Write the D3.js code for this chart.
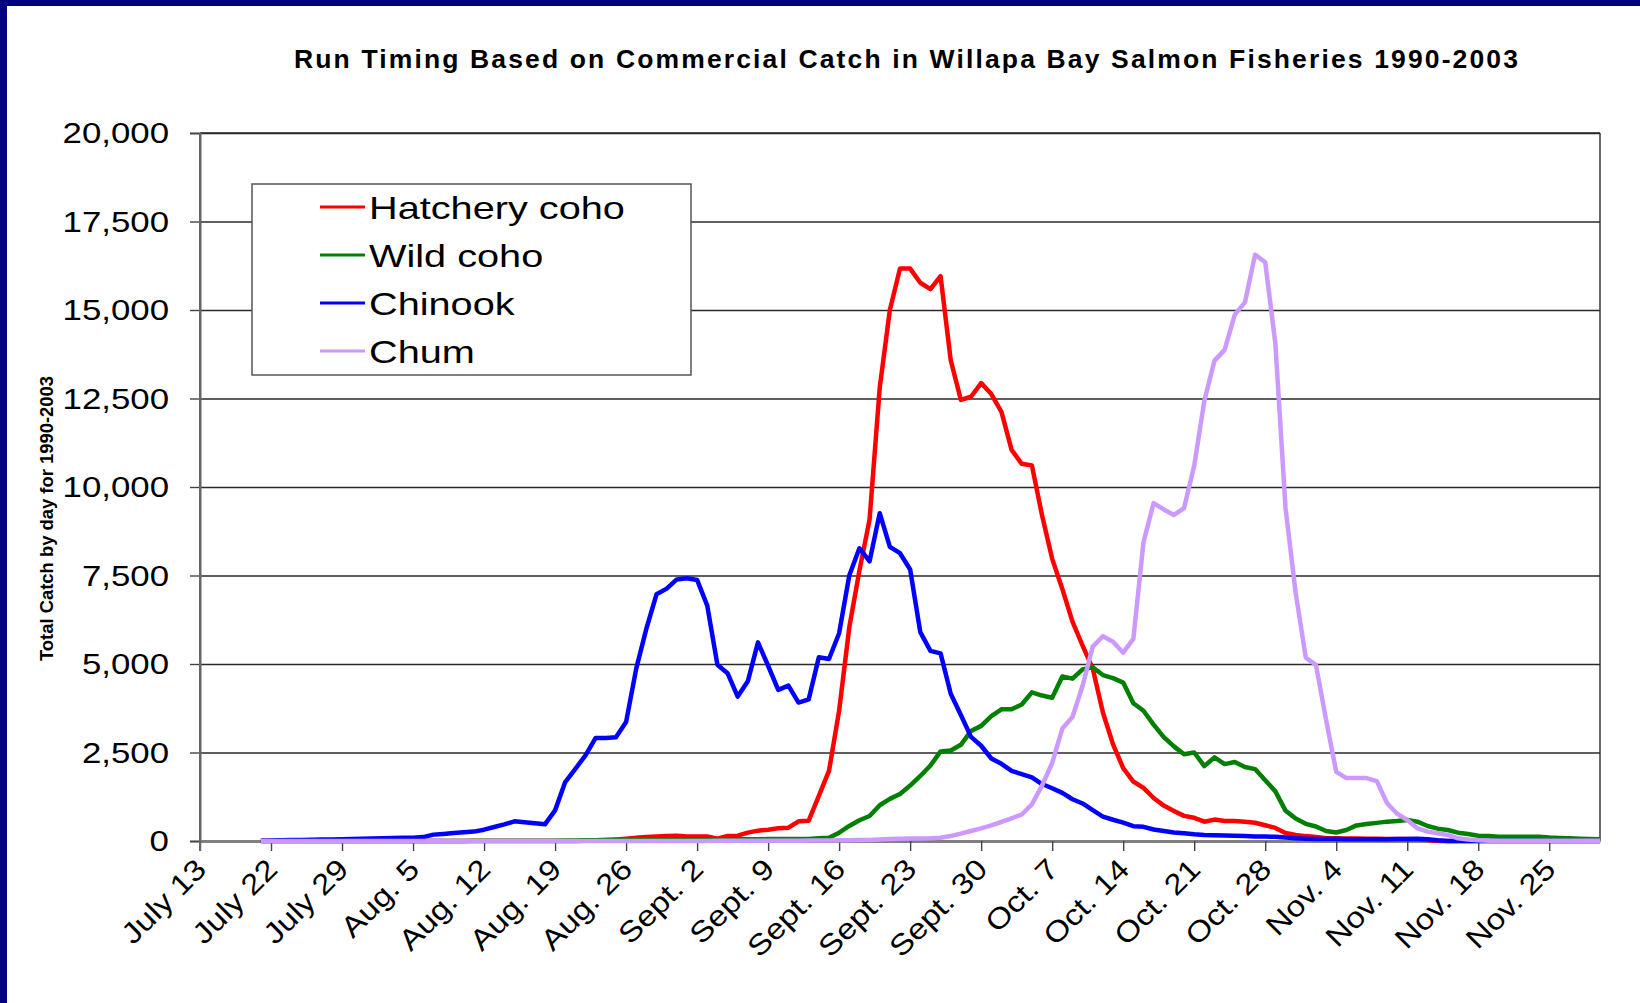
<!DOCTYPE html>
<html>
<head>
<meta charset="utf-8">
<script src="https://cdn.jsdelivr.net/npm/d3@7"></script>
<style>
  html, body { margin: 0; padding: 0; background: #fff; }
  svg { display: block; }
</style>
</head>
<body>
<svg id="chart"></svg>
<script>
// tick labels on the category axis, one every 7 days
const tickLabels = ['July 13', 'July 22', 'July 29', 'Aug. 5', 'Aug. 12', 'Aug. 19', 'Aug. 26',
  'Sept. 2', 'Sept. 9', 'Sept. 16', 'Sept. 23', 'Sept. 30', 'Oct. 7', 'Oct. 14', 'Oct. 21',
  'Oct. 28', 'Nov. 4', 'Nov. 11', 'Nov. 18', 'Nov. 25'];

const seriesNames = ['Hatchery coho', 'Wild coho', 'Chinook', 'Chum'];
const seriesColors = ['#ff0000', '#008000', '#0000ff', '#cc99ff'];

const nDays = 139;   // category slots on the axis
const firstDay = 6;  // first slot that has data

// daily catch from slot 6 to slot 138, ten values a row
const hatcheryCoho = [
  0, 0, 0, 0, 0, 0, 0, 0, 0, 0,
  0, 0, 0, 0, 0, 0, 0, 0, 0, 0,
  0, 0, 0, 0, 0, 0, 0, 0, 0, 0,
  0, 0, 10, 20, 30, 45, 65, 90, 110, 125,
  140, 145, 130, 125, 125, 66, 140, 150, 236, 292,
  320, 358, 377, 556, 575, 1273, 1980, 3680, 6035, 7640,
  9080, 12800, 15000, 16170, 16170, 15770, 15590, 15955, 13580, 12460,
  12550, 12935, 12625, 12120, 11050, 10655, 10610, 9200, 7970, 7120,
  6195, 5520, 4870, 3630, 2730, 2060, 1680, 1500, 1215, 1000,
  850, 710, 655, 546, 605, 565, 565, 546, 515, 445,
  370, 228, 168, 138, 116, 75, 75, 70, 70, 65,
  65, 60, 60, 55, 50, 30, 0, 0, 0, 0,
  0, 0, 0, 0, 0, 0, 0, 0, 0, 0,
  0, 0, 0];

const wildCoho = [
  0, 0, 0, 0, 0, 0, 0, 0, 0, 0,
  0, 0, 0, 0, 0, 0, 0, 0, 0, 0,
  0, 5, 5, 5, 5, 10, 10, 10, 10, 10,
  15, 15, 20, 20, 25, 30, 35, 40, 40, 40,
  45, 45, 45, 45, 45, 50, 50, 50, 50, 50,
  55, 55, 55, 60, 60, 75, 94, 236, 424, 585,
  707, 1010, 1190, 1330, 1565, 1837, 2133, 2530, 2556, 2717,
  3110, 3252, 3530, 3720, 3720, 3857, 4198, 4108, 4048, 4647,
  4587, 4849, 4905, 4688, 4601, 4475, 3891, 3680, 3287, 2935,
  2673, 2450, 2500, 2117, 2363, 2172, 2232, 2091, 2031, 1718,
  1402, 858, 633, 485, 410, 283, 239, 311, 440, 480,
  512, 547, 566, 593, 546, 424, 348, 310, 235, 198,
  150, 141, 122, 122, 122, 122, 122, 100, 85, 75,
  66, 56, 47];

const chinook = [
  10, 15, 20, 25, 30, 35, 40, 45, 50, 55,
  65, 70, 80, 85, 90, 95, 110, 180, 200, 225,
  245, 265, 320, 395, 470, 555, 530, 500, 470, 865,
  1665, 2040, 2420, 2910, 2910, 2930, 3360, 4870, 6000, 6970,
  7130, 7390, 7420, 7375, 6650, 4980, 4740, 4080, 4510, 5610,
  4950, 4270, 4390, 3910, 4000, 5190, 5140, 5870, 7500, 8270,
  7900, 9260, 8310, 8130, 7670, 5900, 5370, 5300, 4160, 3560,
  2940, 2690, 2330, 2180, 1980, 1890, 1800, 1610, 1490, 1360,
  1180, 1060, 870, 690, 600, 520, 420, 400, 325, 280,
  240, 220, 190, 170, 165, 155, 150, 140, 130, 125,
  120, 100, 75, 65, 60, 55, 55, 50, 50, 50,
  50, 50, 55, 60, 65, 50, 20, 0, 0, 0,
  0, 0, 0, 0, 0, 0, 0, 0, 0, 0,
  0, 0, 0];

const chum = [
  0, 0, 0, 0, 0, 0, 0, 0, 0, 0,
  0, 0, 0, 0, 0, 0, 0, 0, 0, 0,
  0, 0, 0, 0, 0, 0, 0, 0, 0, 0,
  0, 0, 0, 0, 0, 0, 0, 0, 0, 0,
  0, 0, 0, 0, 0, 5, 5, 5, 5, 5,
  10, 10, 10, 10, 15, 15, 15, 20, 22, 25,
  28, 40, 55, 66, 70, 72, 75, 94, 141, 207,
  283, 358, 443, 537, 641, 748, 1034, 1563, 2204, 3176,
  3503, 4387, 5490, 5784, 5630, 5320, 5708, 8438, 9546, 9366,
  9210, 9405, 10598, 12436, 13571, 13873, 14868, 15214, 16565, 16349,
  14057, 9409, 7013, 5177, 4975, 3420, 1955, 1778, 1778, 1778,
  1690, 1075, 771, 593, 358, 264, 217, 170, 75, 40,
  20, 10, 10, 10, 10, 10, 10, 10, 10, 10,
  10, 10, 10];

const yTicks = [0, 2500, 5000, 7500, 10000, 12500, 15000, 17500, 20000];

const width = 1640;
const height = 1003;
const margin = {top: 133, right: 40, bottom: 162, left: 200};
const innerWidth = width - margin.left - margin.right;
const innerHeight = height - margin.top - margin.bottom;

const svg = d3.select('#chart')
  .attr('width', width)
  .attr('height', height)
  .style('font-family', '"Liberation Sans", Arial, sans-serif');

// navy frame on the slide
svg.append('rect').attr('x', 0).attr('y', 0).attr('width', width).attr('height', 6).attr('fill', '#000080');
svg.append('rect').attr('x', 0).attr('y', 0).attr('width', 7).attr('height', height).attr('fill', '#000080');

// widen each text of a selection by a factor, glyphs included
function stretch(sel, k) {
  sel.each(function() {
    const len = this.getComputedTextLength();
    d3.select(this).attr('textLength', len * k).attr('lengthAdjust', 'spacingAndGlyphs');
  });
}

svg.append('text')
  .attr('x', 294)
  .attr('y', 68)
  .attr('textLength', 1224)
  .attr('lengthAdjust', 'spacing')
  .style('font-weight', 'bold')
  .style('font-size', '26.5px')
  .text('Run Timing Based on Commercial Catch in Willapa Bay Salmon Fisheries 1990-2003');

const x = d3.scaleLinear().domain([0, nDays - 1]).range([margin.left, margin.left + innerWidth]);
const y = d3.scaleLinear().domain([0, 20000]).range([margin.top + innerHeight, margin.top]);
const x0 = margin.left;
const yBase = margin.top + innerHeight;

// gridlines
svg.append('g')
  .attr('transform', `translate(${x0},0)`)
  .call(d3.axisLeft(y).tickValues(yTicks).tickSize(-innerWidth).tickFormat(''))
  .call(s => s.select('.domain').remove())
  .call(s => s.selectAll('line').attr('stroke', '#2a2a2a').attr('stroke-width', 1.4));

// plot border (top and right)
svg.append('line').attr('x1', x0).attr('x2', x0 + innerWidth).attr('y1', margin.top).attr('y2', margin.top)
  .attr('stroke', '#2a2a2a').attr('stroke-width', 1.4);
svg.append('line').attr('x1', x0 + innerWidth).attr('x2', x0 + innerWidth).attr('y1', margin.top).attr('y2', yBase)
  .attr('stroke', '#2a2a2a').attr('stroke-width', 1.4);

// y axis ticks
const yAxis = svg.append('g')
  .attr('transform', `translate(${x0},0)`)
  .call(d3.axisLeft(y).tickValues(yTicks).tickSize(10).tickFormat(''));
yAxis.select('.domain').attr('stroke', '#666').attr('stroke-width', 2);
yAxis.selectAll('line').attr('stroke', '#444').attr('stroke-width', 1.4);

// y tick labels
svg.append('g').selectAll('text').data(yTicks)
  .enter().append('text')
  .attr('x', x0 - 31)
  .attr('y', d => y(d))
  .attr('text-anchor', 'end')
  .attr('dy', '0.35em')
  .style('font-size', '29px')
  .text(d3.format(','))
  .call(stretch, 1.2);

// x axis ticks
const tickIdx = tickLabels.map((d, i) => i * 7);
const xAxis = svg.append('g')
  .attr('transform', `translate(0,${yBase})`)
  .call(d3.axisBottom(x).tickValues(tickIdx).tickSize(10).tickSizeOuter(0).tickFormat(''));
xAxis.select('.domain').attr('stroke', '#808080').attr('stroke-width', 3);
xAxis.selectAll('line').attr('stroke', '#444').attr('stroke-width', 1.4);

// x tick labels, slanted
svg.append('g').selectAll('text').data(tickIdx)
  .enter().append('text')
  .attr('x', d => x(d) + 8)
  .attr('y', yBase + 30)
  .attr('transform', d => `rotate(-45,${x(d) + 8},${yBase + 30})`)
  .attr('text-anchor', 'end')
  .style('font-size', '29px')
  .text((d, i) => tickLabels[i])
  .call(stretch, 1.15);

// left axis line drawn above the gridlines
svg.append('line').attr('x1', x0).attr('x2', x0).attr('y1', margin.top).attr('y2', yBase + 10)
  .attr('stroke', '#666').attr('stroke-width', 2);

// series lines, drawn in legend order so chum ends on top
const seriesData = [hatcheryCoho, wildCoho, chinook, chum];
const line = d3.line()
  .x((d, i) => x(firstDay + i))
  .y(d => y(d));

svg.selectAll('path.series').data(seriesData)
  .enter().append('path')
  .attr('class', 'series')
  .attr('fill', 'none')
  .attr('stroke', (d, i) => seriesColors[i])
  .attr('stroke-width', 4.5)
  .attr('stroke-linejoin', 'round')
  .attr('d', line);

// legend
const legendX = 252;
const legendY = 184;
svg.append('rect')
  .attr('x', legendX)
  .attr('y', legendY)
  .attr('width', 439)
  .attr('height', 191)
  .attr('fill', '#fff')
  .attr('stroke', '#555')
  .attr('stroke-width', 1.5);

const rowY = i => legendY + 23 + i * 48;
svg.append('g').selectAll('line').data(seriesNames)
  .enter().append('line')
  .attr('x1', legendX + 68).attr('x2', legendX + 113)
  .attr('y1', (d, i) => rowY(i)).attr('y2', (d, i) => rowY(i))
  .attr('stroke', (d, i) => seriesColors[i])
  .attr('stroke-width', 3);
svg.append('g').selectAll('text').data(seriesNames)
  .enter().append('text')
  .attr('x', legendX + 117)
  .attr('y', (d, i) => rowY(i))
  .attr('dy', '0.36em')
  .style('font-size', '32px')
  .text(d => d)
  .call(stretch, 1.24);

// y axis title
svg.append('text')
  .attr('x', 53)
  .attr('y', 661)
  .attr('transform', 'rotate(-90,53,661)')
  .attr('textLength', 285)
  .attr('lengthAdjust', 'spacingAndGlyphs')
  .style('font-weight', 'bold')
  .style('font-size', '19px')
  .text('Total Catch by day for 1990-2003');
</script>
</body>
</html>
